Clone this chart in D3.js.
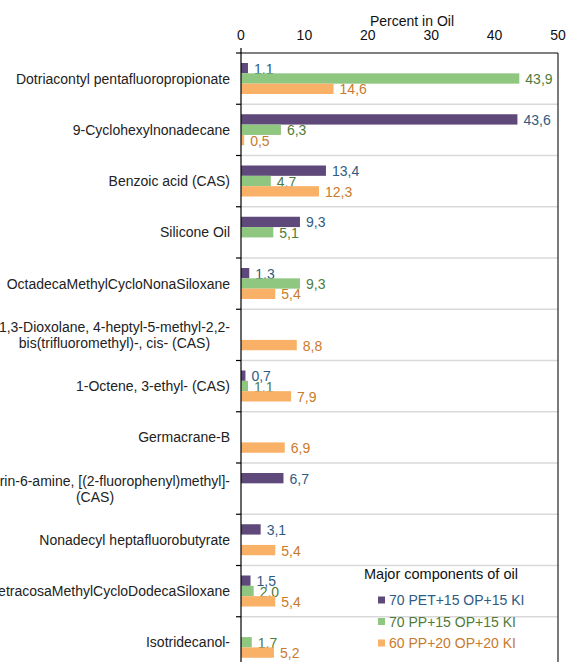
<!DOCTYPE html>
<html>
<head>
<meta charset="utf-8">
<script src="https://cdn.jsdelivr.net/npm/d3@7"></script>
<style>
  body { margin: 0; background: #fff; overflow: hidden; }
  svg { display: block; font-family: "Liberation Sans", Arial, sans-serif; }
</style>
</head>
<body>
<div id="chart"></div>
<script>
// categories, top to bottom ("\n" = where the label wraps)
var categories = [
  "Dotriacontyl pentafluoropropionate",
  "9-Cyclohexylnonadecane",
  "Benzoic acid (CAS)",
  "Silicone Oil",
  "OctadecaMethylCycloNonaSiloxane",
  "1,3-Dioxolane, 4-heptyl-5-methyl-2,2-\nbis(trifluoromethyl)-, cis- (CAS)",
  "1-Octene, 3-ethyl- (CAS)",
  "Germacrane-B",
  "1H-Purin-6-amine, [(2-fluorophenyl)methyl]-\n(CAS)",
  "Nonadecyl heptafluorobutyrate",
  "TetracosaMethylCycloDodecaSiloxane",
  "Isotridecanol-"
];
var seriesNames = ["70 PET+15 OP+15 KI", "70 PP+15 OP+15 KI", "60 PP+20 OP+20 KI"];
var petValues = [1.1, 43.6, 13.4, 9.3, 1.3, null, 0.7, null, 6.7, 3.1, 1.5, null];
var ppValues  = [43.9, 6.3, 4.7, 5.1, 9.3, null, 1.1, null, null, null, 2.0, 1.7];
var pp60Values = [14.6, 0.5, 12.3, null, 5.4, 8.8, 7.9, 6.9, null, 5.4, 5.4, 5.2];
var xTicks = [0, 10, 20, 30, 40, 50];

var barColors = ["#5f497a", "#8fc680", "#f9b067"];
var textColors = ["#2f5b82", "#4f7b3a", "#c97a2c"];

var W = 566, H = 662;
var plotL = 241, plotR = 558, plotT = 53, band = 51.25;
var fs = "14px";

var svg = d3.select("#chart").append("svg")
  .attr("width", W).attr("height", H);

var x = d3.scaleLinear().domain([0, 50]).range([plotL, plotR]);
var y = d3.scaleBand().domain(d3.range(categories.length))
  .range([plotT, plotT + band * categories.length]);
var ys = d3.scaleBand().domain([0, 1, 2]).range([10, 41]);

var allSeries = [petValues, ppValues, pp60Values];
var fmt = function(v){ return d3.format(".1f")(v).replace(".", ","); };

// gridlines at band boundaries
var bounds = d3.range(categories.length + 1).map(function(i){ return plotT + i * band; });
svg.selectAll(".grid").data(bounds.slice(1)).enter().append("line")
  .attr("x1", plotL).attr("x2", plotR)
  .attr("y1", function(d){ return d; }).attr("y2", function(d){ return d; })
  .attr("stroke", "#d9d9d9").attr("stroke-width", 1.5);

// bars
allSeries.forEach(function(vals, s){
  var pts = vals.map(function(v, i){ return {v: v, i: i}; }).filter(function(d){ return d.v != null; });
  svg.selectAll(".bar" + s).data(pts).enter().append("rect")
    .attr("x", x(0))
    .attr("y", function(d){ return y(d.i) + ys(s); })
    .attr("width", function(d){ return x(d.v) - x(0); })
    .attr("height", ys.bandwidth())
    .attr("fill", barColors[s]);
  svg.selectAll(".lab" + s).data(pts).enter().append("text")
    .attr("x", function(d){ return x(d.v) + 6; })
    .attr("y", function(d){ return y(d.i) + ys(s) + ys.bandwidth() / 2 + 5.5; })
    .attr("font-size", fs)
    .attr("fill", textColors[s])
    .text(function(d){ return fmt(d.v); });
});

// plot frame: top + right
svg.append("line").attr("x1", plotL).attr("x2", plotR).attr("y1", plotT).attr("y2", plotT)
  .attr("stroke", "#000").attr("stroke-width", 1.2);
svg.append("line").attr("x1", plotR).attr("x2", plotR).attr("y1", plotT).attr("y2", H)
  .attr("stroke", "#222").attr("stroke-width", 1.2);

// left category axis
svg.append("line").attr("x1", plotL).attr("x2", plotL).attr("y1", plotT - 5).attr("y2", H)
  .attr("stroke", "#000").attr("stroke-width", 1.2);
svg.selectAll(".ytick").data(bounds).enter().append("line")
  .attr("x1", plotL - 5).attr("x2", plotL)
  .attr("y1", function(d){ return d; }).attr("y2", function(d){ return d; })
  .attr("stroke", "#000").attr("stroke-width", 1.2);

// category labels, block right-aligned, lines centred
categories.forEach(function(c, i){
  var lines = c.split("\n");
  var g = svg.append("g");
  var ts = lines.map(function(l){
    return g.append("text").attr("font-size", fs).attr("fill", "#222")
      .attr("text-anchor", "middle").text(l);
  });
  var w = d3.max(ts, function(t){ return t.node().getComputedTextLength(); });
  var cx = 230 - w / 2;
  var cy = y(i) + band / 2;
  var lh = 16;
  ts.forEach(function(t, k){
    t.attr("x", cx).attr("y", cy + (k - (lines.length - 1) / 2) * lh + 5);
  });
});

// top value axis
svg.selectAll(".xtick").data(xTicks).enter().append("text")
  .attr("x", function(d){ return x(d); }).attr("y", 40)
  .attr("text-anchor", "middle").attr("font-size", fs).attr("fill", "#111")
  .text(function(d){ return d; });
svg.append("text").attr("x", 412).attr("y", 26)
  .attr("text-anchor", "middle").attr("font-size", fs).attr("fill", "#111")
  .text("Percent in Oil");

// legend
var lg = svg.append("g");
lg.append("text").attr("x", 364).attr("y", 579).attr("font-size", "14.5px").attr("fill", "#111")
  .text("Major components of oil");
seriesNames.forEach(function(n, s){
  var cy = 600 + s * 21.5;
  lg.append("rect").attr("x", 378).attr("y", cy - 3.5).attr("width", 7).attr("height", 7)
    .attr("fill", barColors[s]);
  lg.append("text").attr("x", 389).attr("y", cy + 5).attr("font-size", fs)
    .attr("fill", textColors[s]).text(n);
});
</script>
</body>
</html>
